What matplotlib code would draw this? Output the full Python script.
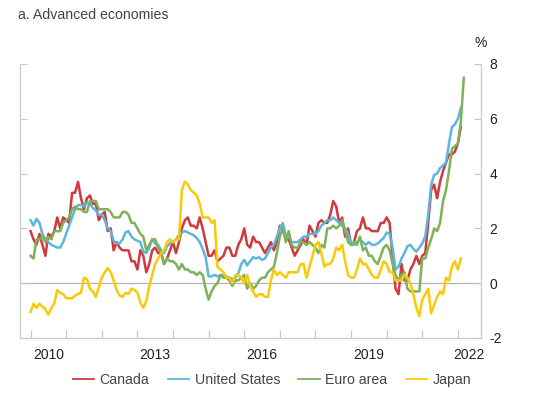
import numpy as np
import pandas as pd
import matplotlib
matplotlib.use("Agg")
import matplotlib.pyplot as plt

plt.rcParams['font.family'] = ['Liberation Sans', 'DejaVu Sans']
plt.rcParams['axes.unicode_minus'] = False

# monthly year-over-year inflation, %, from Jan 2010
canada = [
    1.9, 1.6, 1.4, 1.8, 1.4, 1.0, 1.8, 1.7, 1.9, 2.4, 2.0, 2.4,
    2.3, 2.2, 3.3, 3.3, 3.7, 3.1, 2.7, 3.1, 3.2, 2.9, 2.9, 2.3,
    2.5, 2.6, 1.9, 2.0, 1.2, 1.5, 1.3, 1.2, 1.2, 1.2, 0.8, 0.8,
    0.5, 1.2, 1.0, 0.4, 0.7, 1.2, 1.3, 1.1, 1.1, 0.7, 0.9, 1.2,
    1.5, 1.1, 1.5, 2.0, 2.3, 2.4, 2.1, 2.1, 2.0, 2.4, 2.0, 1.5,
    1.0, 1.0, 1.2, 0.8, 0.9, 1.0, 1.3, 1.3, 1.0, 1.0, 1.4, 1.6,
    2.0, 1.4, 1.3, 1.7, 1.5, 1.5, 1.3, 1.1, 1.3, 1.5, 1.2, 1.5,
    2.1, 2.0, 1.6, 1.6, 1.3, 1.0, 1.2, 1.4, 1.6, 1.4, 2.1, 1.9,
    1.7, 2.2, 2.3, 2.2, 2.2, 2.5, 3.0, 2.8, 2.2, 2.4, 1.7, 2.0,
    1.4, 1.5, 1.9, 2.0, 2.4, 2.0, 2.0, 1.9, 1.9, 1.9, 2.2, 2.2,
    2.4, 2.2, 0.9, -0.2, -0.4, 0.7, 0.1, 0.1, 0.5, 0.7, 1.0, 0.7,
    1.0, 1.1, 2.2, 3.4, 3.6, 3.1, 3.7, 4.1, 4.4, 4.7, 4.7, 4.8,
    5.1, 5.7,
]
united_states = [
    2.3, 2.1, 2.35, 2.2, 1.8, 1.6, 1.5, 1.4, 1.35, 1.3, 1.3, 1.5,
    1.8, 2.1, 2.4, 2.7, 2.85, 2.85, 2.8, 2.95, 2.9, 2.75, 2.65, 2.5,
    2.5, 2.3, 2.0, 1.9, 1.55, 1.45, 1.45, 1.6, 1.85, 1.9, 1.7, 1.6,
    1.55, 1.5, 1.15, 1.1, 1.3, 1.6, 1.45, 1.4, 1.2, 1.1, 1.35, 1.45,
    1.5, 1.6, 1.75, 1.85, 1.9, 1.85, 1.8, 1.75, 1.65, 1.5, 1.25, 0.95,
    0.25, 0.25, 0.3, 0.25, 0.3, 0.3, 0.25, 0.2, 0.15, 0.2, 0.35, 0.7,
    0.85, 0.65, 0.8, 0.95, 0.9, 0.95, 0.85, 0.9, 1.1, 1.3, 1.4, 1.7,
    2.0, 2.2, 1.75, 1.7, 1.5, 1.5, 1.5, 1.6, 1.7, 1.7, 1.8, 1.8,
    1.8, 1.9, 2.1, 2.2, 2.3, 2.3, 2.4, 2.3, 2.2, 2.1, 2.0, 1.8,
    1.4, 1.4, 1.5, 1.6, 1.5, 1.4, 1.5, 1.4, 1.4, 1.45, 1.55, 1.65,
    1.85, 1.8, 1.3, 0.5, 0.6, 0.9, 1.1, 1.35, 1.4, 1.25, 1.15, 1.3,
    1.45, 1.7, 2.5, 3.6, 3.95, 4.0, 4.2, 4.3, 4.4, 5.1, 5.7, 5.8,
    6.0, 6.4,
]
euro_area = [
    1.0, 0.9, 1.6, 1.6, 1.7, 1.5, 1.7, 1.6, 1.9, 1.9, 1.9, 2.2,
    2.3, 2.4, 2.7, 2.8, 2.7, 2.7, 2.6, 2.6, 3.0, 3.0, 3.0, 2.7,
    2.7, 2.7, 2.7, 2.6, 2.4, 2.4, 2.4, 2.6, 2.6, 2.5, 2.2, 2.2,
    2.0, 1.8, 1.7, 1.2, 1.4, 1.6, 1.6, 1.3, 1.1, 0.7, 0.9, 0.8,
    0.8, 0.7, 0.5, 0.7, 0.5, 0.5, 0.4, 0.4, 0.3, 0.4, 0.3, -0.2,
    -0.6, -0.3, -0.1, 0.0, 0.3, 0.2, 0.2, 0.1, -0.1, 0.1, 0.1, 0.2,
    0.3, -0.2, 0.0, -0.2, -0.1, 0.1, 0.2, 0.2, 0.4, 0.5, 0.6, 1.1,
    1.7, 2.0, 1.5, 1.9, 1.4, 1.3, 1.3, 1.5, 1.5, 1.4, 1.5, 1.4,
    1.3, 1.1, 1.4, 1.3, 2.0, 2.0, 2.1, 2.0, 2.1, 2.3, 1.9, 1.5,
    1.4, 1.5, 1.4, 1.7, 1.2, 1.3, 1.0, 1.0, 0.8, 0.7, 1.0, 1.3,
    1.4, 1.2, 0.7, 0.3, 0.1, 0.3, 0.4, -0.2, -0.3, -0.3, -0.3, -0.3,
    0.9, 0.9, 1.3, 1.6, 2.0, 1.9, 2.2, 3.0, 3.4, 4.1, 4.9, 5.0,
    5.1, 5.9, 7.5,
]
japan = [
    -1.05, -0.75, -0.9, -0.75, -0.85, -0.95, -1.15, -0.9, -0.75, -0.25, -0.35, -0.4,
    -0.55, -0.55, -0.55, -0.45, -0.4, -0.35, 0.2, 0.15, -0.2, -0.3, -0.5, -0.15,
    0.2, 0.4, 0.55, 0.4, 0.1, -0.25, -0.45, -0.5, -0.35, -0.4, -0.2, -0.25,
    -0.35, -0.7, -0.9, -0.65, -0.1, 0.3, 0.7, 0.9, 1.1, 1.2, 1.5, 1.6,
    1.5, 1.6, 1.6, 3.4, 3.7, 3.6, 3.4, 3.3, 3.2, 2.9, 2.4, 2.4,
    2.4, 2.2, 2.3, 0.6, 0.5, 0.4, 0.2, 0.2, 0.0, 0.3, 0.3, 0.2,
    0.0, 0.3, -0.1, -0.3, -0.5, -0.4, -0.4, -0.5, -0.5, 0.1, 0.5, 0.3,
    0.4, 0.3, 0.2, 0.4, 0.4, 0.4, 0.4, 0.7, 0.7, 0.2, 0.6, 1.0,
    1.4, 1.5, 1.1, 0.6, 0.7, 0.7, 0.9, 1.3, 1.2, 1.4, 0.8, 0.3,
    0.2, 0.2, 0.5, 0.9, 0.7, 0.7, 0.5, 0.3, 0.2, 0.2, 0.5, 0.8,
    0.7, 0.4, 0.4, 0.1, 0.1, 0.1, 0.3, 0.2, 0.0, -0.4, -0.9, -1.2,
    -0.6, -0.4, -0.2, -1.1, -0.8, -0.5, -0.3, -0.4, 0.2, 0.1, 0.6, 0.8,
    0.5, 0.9,
]

series = [
    ("Canada", canada, "#cf3a3c"),
    ("United States", united_states, "#5cb6de"),
    ("Euro area", euro_area, "#7db25a"),
    ("Japan", japan, "#fbc90a"),
]

year_ticks = list(range(2010, 2023))
label_years = ["2010", "2013", "2016", "2019", "2022"]
label_pos = [2010.5, 2013.5, 2016.5, 2019.5, 2022.31]


def to_years(n):
    d = pd.date_range("2010-01-01", periods=n, freq="MS")
    return d.year + (d.month - 1) / 12.0


fig = plt.figure(figsize=(5.33, 3.99), dpi=100)
ax = fig.add_axes([0.0366, 0.1529, 0.8659, 0.6867])

ax.axhline(0, color="#b4b4b4", lw=0.9, zorder=1)
for name, vals, col in series:
    ax.plot(to_years(len(vals)), vals, color=col, lw=1.8, label=name,
            solid_joinstyle="round", zorder=3)

ax.set_xlim(2009.69, 2022.65)
ax.set_ylim(-2, 8)

grey = "#c9c9c9"
for s in ["left", "right", "bottom"]:
    ax.spines[s].set_color(grey)
    ax.spines[s].set_linewidth(0.9)
ax.spines["top"].set_visible(False)

ax.set_xticks(year_ticks)
ax.set_xticklabels([])
ax.set_xticks(label_pos, minor=True)
ax.set_xticklabels(label_years, minor=True)
ax.tick_params(axis="x", which="major", direction="in", length=6,
               color=grey, width=0.9)
ax.tick_params(axis="x", which="minor", length=0, pad=7,
               labelsize=10, labelcolor="#222222")

ax.set_yticks(range(-2, 9, 2))
ax.yaxis.tick_right()
ax.tick_params(axis="y", which="major", direction="in", length=5,
               color=grey, width=0.9, left=True, right=True,
               labelleft=False, labelright=True, pad=6,
               labelsize=10, labelcolor="#222222")

fig.text(18 / 533, 1 - 15 / 399, "a. Advanced economies", fontsize=10.2,
         color="#444444", ha="left", va="center")
fig.text(481 / 533, 1 - 43 / 399, "%", fontsize=10, color="#222222",
         ha="center", va="center")

leg = fig.legend(loc="center", bbox_to_anchor=(272 / 533, 1 - 380 / 399),
                 ncol=4, frameon=False, fontsize=10.2, handlelength=1.5,
                 handletextpad=0.4, columnspacing=1.3, labelcolor="#444444")
for h in leg.get_lines():
    h.set_linewidth(1.3)

fig.savefig("out.png", dpi=100)
